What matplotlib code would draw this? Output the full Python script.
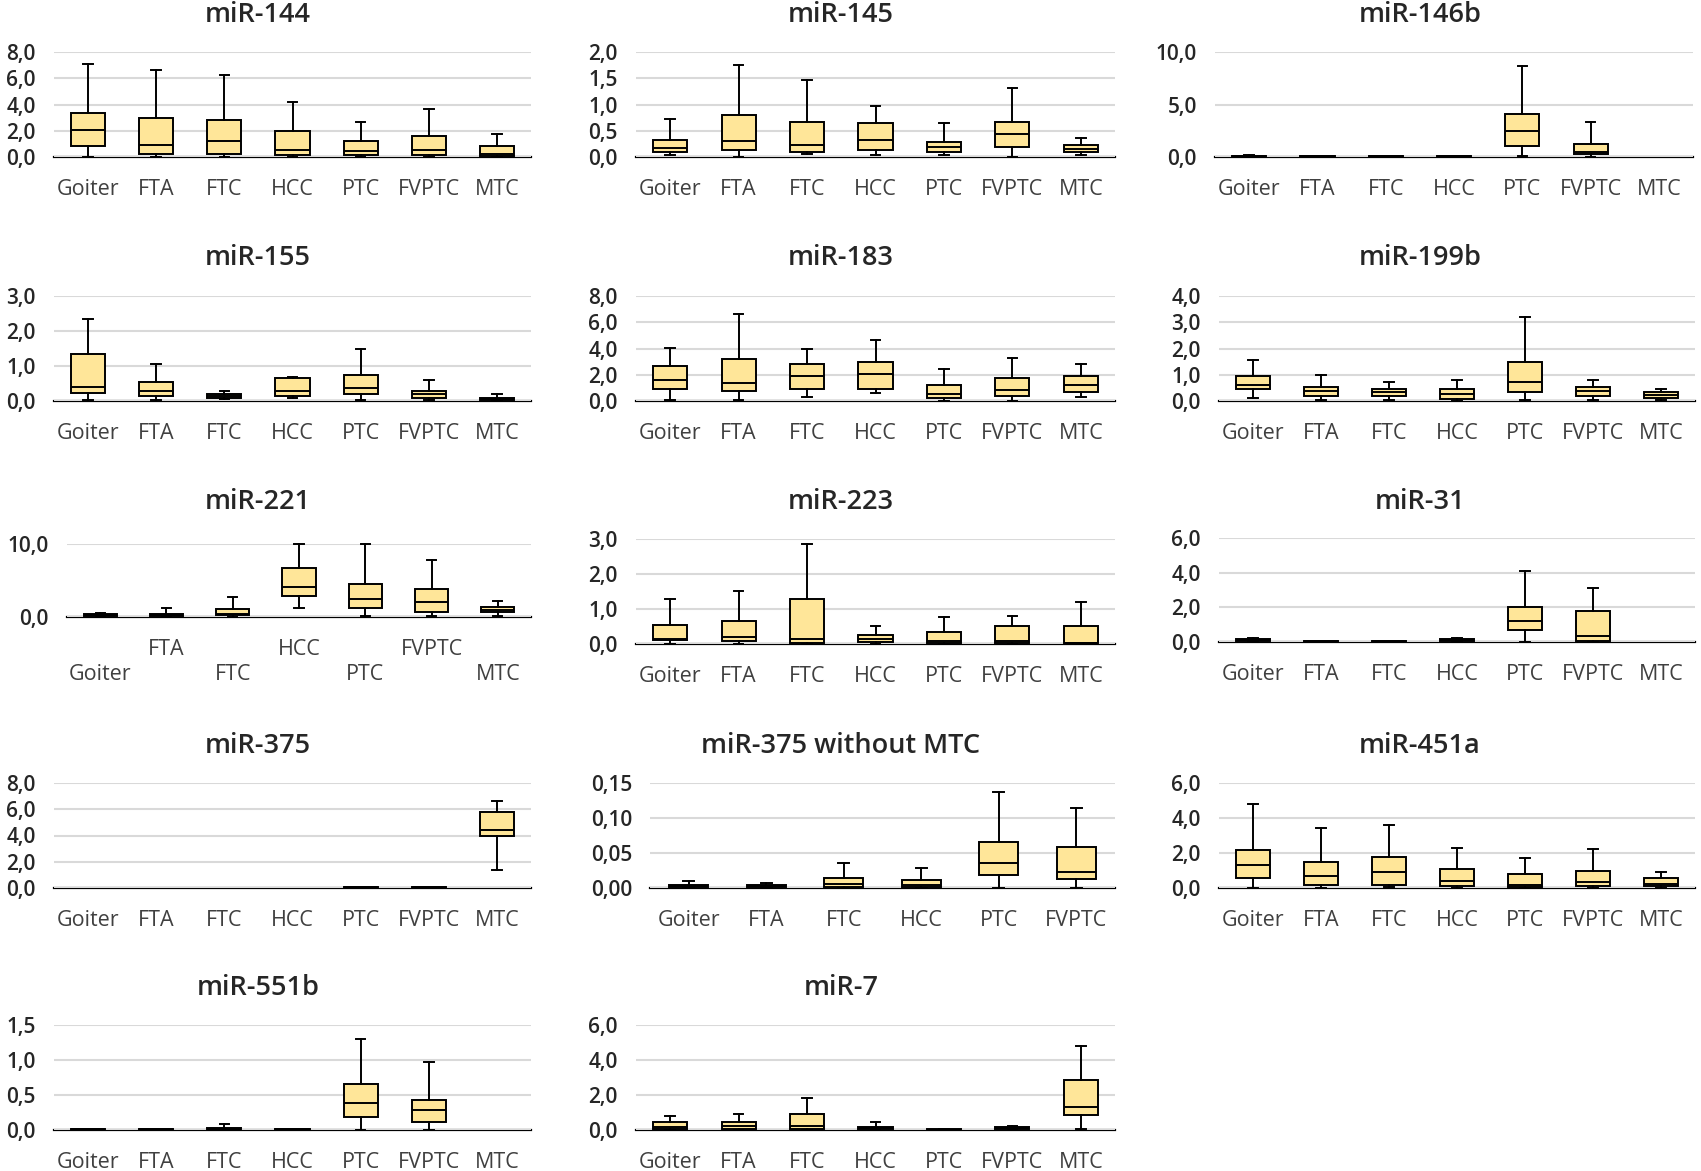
import matplotlib
matplotlib.use("Agg")
import matplotlib.pyplot as plt
from matplotlib.ticker import FuncFormatter

# ---------------- data (whisker low, Q1, median, Q3, whisker high) ----------------
categories = ["Goiter", "FTA", "FTC", "HCC", "PTC", "FVPTC", "MTC"]
categories_no_mtc = ["Goiter", "FTA", "FTC", "HCC", "PTC", "FVPTC"]

mir144 = [[0, 0, 0, 0, 0, 0, 0],
          [0.81, 0.25, 0.25, 0.18, 0.15, 0.15, 0.10],
          [2.02, 0.93, 1.19, 0.56, 0.43, 0.50, 0.25],
          [3.33, 2.95, 2.83, 2.00, 1.19, 1.62, 0.81],
          [7.05, 6.62, 6.21, 4.19, 2.68, 3.66, 1.74]]
mir145 = [[0.03, 0.0, 0.06, 0.03, 0.03, 0.0, 0.03],
          [0.095, 0.13, 0.09, 0.13, 0.095, 0.20, 0.095],
          [0.18, 0.31, 0.23, 0.33, 0.20, 0.44, 0.145],
          [0.33, 0.80, 0.67, 0.64, 0.29, 0.67, 0.23],
          [0.72, 1.76, 1.46, 0.98, 0.64, 1.32, 0.37]]
mir146b = [[0, 0, 0, 0, 0.06, 0, 0],
           [0.04, 0.03, 0.03, 0.03, 1.08, 0.25, 0],
           [0.08, 0.05, 0.05, 0.05, 2.48, 0.48, 0],
           [0.13, 0.08, 0.08, 0.08, 4.13, 1.27, 0],
           [0.22, 0.10, 0.10, 0.10, 8.63, 3.33, 0]]
mir155 = [[0.04, 0.04, 0.05, 0.10, 0.04, 0.04, 0.02],
          [0.24, 0.14, 0.10, 0.14, 0.19, 0.10, 0.03],
          [0.40, 0.29, 0.15, 0.29, 0.36, 0.21, 0.06],
          [1.35, 0.55, 0.20, 0.67, 0.75, 0.30, 0.10],
          [2.33, 1.06, 0.30, 0.70, 1.48, 0.61, 0.20]]
mir183 = [[0.10, 0.10, 0.28, 0.63, 0, 0, 0.28],
          [0.91, 0.79, 0.91, 0.91, 0.25, 0.41, 0.66],
          [1.60, 1.37, 1.88, 2.03, 0.56, 0.84, 1.19],
          [2.67, 3.22, 2.79, 2.97, 1.19, 1.73, 1.88],
          [4.06, 6.65, 3.93, 4.62, 2.44, 3.25, 2.82]]
mir199b = [[0.13, 0.05, 0.05, 0, 0.05, 0.05, 0.05],
           [0.44, 0.19, 0.19, 0.08, 0.33, 0.19, 0.13],
           [0.60, 0.38, 0.33, 0.25, 0.74, 0.38, 0.23],
           [0.94, 0.55, 0.47, 0.47, 1.49, 0.55, 0.33],
           [1.57, 1.00, 0.74, 0.81, 3.20, 0.81, 0.47]]
mir221 = [[0.05, 0, 0.05, 1.18, 0.09, 0.09, 0.09],
          [0.14, 0.14, 0.27, 2.86, 1.18, 0.73, 0.64],
          [0.27, 0.27, 0.45, 4.05, 2.45, 2.00, 0.95],
          [0.41, 0.41, 1.14, 6.77, 4.55, 3.86, 1.41],
          [0.55, 1.23, 2.68, 10.0, 10.0, 7.77, 2.14]]
mir223 = [[0, 0, 0, 0, 0, 0, 0],
          [0.10, 0.09, 0.04, 0.06, 0.03, 0.03, 0.02],
          [0.13, 0.21, 0.13, 0.14, 0.09, 0.09, 0.04],
          [0.53, 0.65, 1.28, 0.25, 0.33, 0.50, 0.50],
          [1.28, 1.52, 2.86, 0.50, 0.76, 0.80, 1.21]]
mir31 = [[0, 0, 0, 0, 0, 0, 0],
         [0.06, 0.02, 0.02, 0.06, 0.69, 0.04, 0],
         [0.12, 0.03, 0.03, 0.12, 1.20, 0.34, 0],
         [0.20, 0.05, 0.05, 0.20, 2.00, 1.80, 0],
         [0.25, 0.06, 0.06, 0.25, 4.07, 3.14, 0]]
mir375 = [[0, 0, 0, 0, 0, 0, 1.35],
          [0, 0, 0, 0, 0.02, 0.02, 3.93],
          [0, 0, 0, 0, 0.04, 0.04, 4.44],
          [0, 0, 0, 0, 0.07, 0.07, 5.79],
          [0, 0, 0, 0, 0.10, 0.10, 6.62]]
mir375_wo_mtc = [[0, 0, 0, 0, 0, 0],
                 [0.001, 0.001, 0.002, 0.002, 0.018, 0.013],
                 [0.003, 0.003, 0.006, 0.005, 0.036, 0.023],
                 [0.005, 0.005, 0.015, 0.012, 0.066, 0.058],
                 [0.0105, 0.007, 0.036, 0.028, 0.137, 0.115]]
mir451a = [[0, 0, 0.06, 0, 0, 0, 0],
           [0.59, 0.19, 0.19, 0.13, 0.08, 0.10, 0.10],
           [1.30, 0.71, 0.90, 0.42, 0.17, 0.33, 0.23],
           [2.20, 1.49, 1.80, 1.07, 0.78, 0.98, 0.57],
           [4.78, 3.44, 3.58, 2.31, 1.70, 2.24, 0.90]]
mir551b = [[0, 0, 0, 0, 0, 0, 0],
           [0.005, 0.005, 0.01, 0.005, 0.19, 0.11, 0],
           [0.01, 0.01, 0.02, 0.01, 0.39, 0.28, 0],
           [0.015, 0.015, 0.03, 0.015, 0.66, 0.43, 0],
           [0.02, 0.02, 0.09, 0.02, 1.30, 0.97, 0]]
mir7 = [[0, 0, 0, 0, 0, 0, 0.05],
        [0.06, 0.06, 0.06, 0.03, 0.01, 0.05, 0.86],
        [0.20, 0.25, 0.25, 0.10, 0.02, 0.10, 1.30],
        [0.43, 0.43, 0.93, 0.20, 0.04, 0.17, 2.84],
        [0.80, 0.93, 1.85, 0.43, 0.06, 0.25, 4.80]]

titles = ["miR-144", "miR-145", "miR-146b", "miR-155", "miR-183", "miR-199b",
          "miR-221", "miR-223", "miR-31", "miR-375", "miR-375 without MTC",
          "miR-451a", "miR-551b", "miR-7"]
y_ticks = [[0, 2, 4, 6, 8], [0, 0.5, 1.0, 1.5, 2.0], [0, 5, 10], [0, 1, 2, 3],
           [0, 2, 4, 6, 8], [0, 1, 2, 3, 4], [0, 10], [0, 1, 2, 3], [0, 2, 4, 6],
           [0, 2, 4, 6, 8], [0, 0.05, 0.10, 0.15], [0, 2, 4, 6],
           [0, 0.5, 1.0, 1.5], [0, 2, 4, 6]]

# ---------------- layout (pixels: left, top, right, bottom of plot area; title centre) ----------------
W, H = 1701, 1171
rects = [(54, 52, 531, 157), (636, 52, 1115, 157), (1215, 52, 1693, 157),
         (54, 296, 531, 401), (636, 296, 1115, 401), (1219, 296, 1695, 401),
         (67, 544, 531, 617), (636, 539, 1115, 644), (1219, 538, 1695, 642),
         (54, 783, 531, 888), (650, 783, 1115, 888), (1219, 783, 1695, 888),
         (54, 1025, 531, 1130), (636, 1025, 1115, 1130)]
title_pos = [(258, 15), (841, 15), (1420, 15),
             (258, 258), (841, 258), (1420, 258),
             (258, 502), (841, 502), (1420, 502),
             (258, 746), (841, 746), (1420, 746),
             (258, 988), (841, 988)]

series = [mir144, mir145, mir146b, mir155, mir183, mir199b, mir221, mir223,
          mir31, mir375, mir375_wo_mtc, mir451a, mir551b, mir7]
cats_list = [categories] * 10 + [categories_no_mtc] + [categories] * 3

plt.rcParams['font.family'] = ['Open Sans', 'DejaVu Sans']

fig = plt.figure(figsize=(W / 100, H / 100), dpi=100)
fig.patch.set_facecolor('white')

BOX = '#FFE699'
LW = 1.4


def fmt_factory(decimals):
    return FuncFormatter(lambda v, p: f"{v:.{decimals}f}".replace('.', ','))


for i, (title, data, cats, ticks) in enumerate(zip(titles, series, cats_list, y_ticks)):
    l, t, r, b = rects[i]
    ax = fig.add_axes([l / W, 1 - b / H, (r - l) / W, (b - t) / H])
    n = len(cats)
    lo, q1, med, q3, hi = data
    keep = [k for k in range(n) if hi[k] > 0]
    stats = [dict(whislo=lo[k], q1=q1[k], med=med[k], q3=q3[k], whishi=hi[k], label=cats[k])
             for k in keep]
    ax.bxp(stats, positions=keep, widths=0.5, capwidths=0.14,
           showfliers=False, patch_artist=True, manage_ticks=False,
           boxprops=dict(facecolor=BOX, edgecolor='black', linewidth=LW),
           medianprops=dict(color='black', linewidth=LW, solid_capstyle='butt'),
           whiskerprops=dict(color='black', linewidth=LW),
           capprops=dict(color='black', linewidth=LW))
    for art in ax.lines:
        art.set_clip_on(False)
    ax.set_xlim(-0.5, n - 0.5)
    ax.set_ylim(0, ticks[-1])
    ax.set_yticks(ticks)
    ax.yaxis.set_major_formatter(fmt_factory(2 if ticks[-1] < 0.5 else 1))
    ax.yaxis.grid(True, color='#D9D9D9', linewidth=1.5)
    ax.set_axisbelow(True)
    for s in ['left', 'right', 'top']:
        ax.spines[s].set_visible(False)
    ax.spines['bottom'].set_color('black')
    ax.spines['bottom'].set_linewidth(1.6)
    ax.spines['bottom'].set_zorder(0.5)
    ax.tick_params(axis='both', length=0)
    ax.tick_params(axis='y', pad=13, labelsize=15, labelcolor='#262626')
    ax.tick_params(axis='x', pad=16, labelsize=15.5, labelcolor='#404040')
    for lab in ax.get_yticklabels():
        lab.set_fontweight('semibold')
    ax.set_xticks(list(range(n)))
    if title == "miR-221":
        labels = [c if k % 2 == 1 else "\n" + c for k, c in enumerate(cats)]
        ax.set_xticklabels(labels, linespacing=1.25)
    else:
        ax.set_xticklabels(cats)
    tx, ty = title_pos[i]
    fig.text(tx / W, 1 - ty / H, title, ha='center', va='center',
             fontsize=19.5, fontweight='semibold', color='#262626')

fig.savefig('out.png', dpi=100, facecolor='white')
